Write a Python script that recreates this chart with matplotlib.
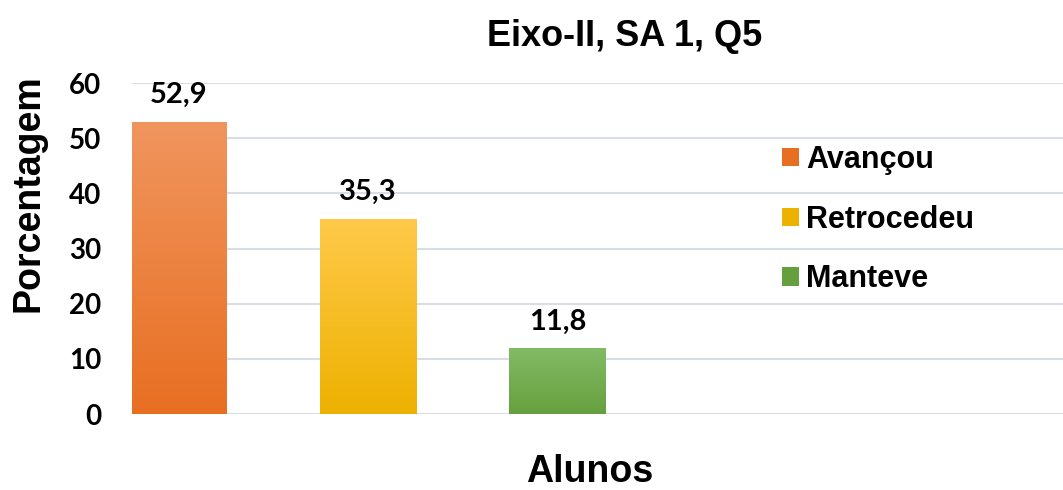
import matplotlib
matplotlib.use("Agg")
import matplotlib.pyplot as plt
import numpy as np
from matplotlib.patches import Patch

categories = ["Avançou", "Retrocedeu", "Manteve"]
values = [52.9, 35.3, 11.8]
labels = ["52,9", "35,3", "11,8"]
yticks = [0, 10, 20, 30, 40, 50, 60]

# gradient colours (top, bottom) per bar
grad = [("#F0955E", "#E86F22"), ("#FFC94A", "#EDB100"), ("#82BB65", "#66A03E")]

fig = plt.figure(figsize=(10.63, 4.9), dpi=100)
ax = fig.add_axes([0.1242, 0.155, 0.8758, 0.6755])

x = np.arange(len(values))
width = 0.507
bars = ax.bar(x, values, width=width, color="none", zorder=3)
for b, (top, bot) in zip(bars, grad):
    x0, w, h = b.get_x(), b.get_width(), b.get_height()
    c1 = np.array(matplotlib.colors.to_rgb(top))
    c2 = np.array(matplotlib.colors.to_rgb(bot))
    t = np.linspace(0, 1, 100)[:, None]
    img = (c1 * (1 - t) + c2 * t)[:, None, :]
    ax.imshow(img, extent=(x0, x0 + w, 0, h), aspect="auto", zorder=3,
              interpolation="bilinear")

for xi, v, lab in zip(x, values, labels):
    ax.text(xi, v + 2.6, lab, ha="center", va="bottom", fontsize=21,
            fontweight="bold", family="Lato")

ax.set_xlim(-0.245, 4.667)
ax.set_ylim(0, 60)
ax.set_yticks(yticks)
ax.set_yticklabels([str(t) for t in yticks], fontsize=20, fontweight="bold",
                   family="Lato")
ax.set_xticks([])
ax.tick_params(axis="y", length=0, pad=22)
ax.grid(axis="y", color="#D9DEE6", linewidth=1.5, zorder=0)
for s in ax.spines.values():
    s.set_visible(False)

fig.text(0.027, 0.606, "Porcentagem", rotation=90, ha="center", va="center",
         fontsize=27, fontweight="bold", family="Liberation Sans")
fig.text(0.555, 0.037, "Alunos", ha="center", va="center",
         fontsize=27, fontweight="bold", family="Liberation Sans")
fig.text(0.588, 0.925, "Eixo-II, SA 1, Q5", ha="center", va="center",
         fontsize=26, fontweight="bold", family="Liberation Sans")

handles = [Patch(facecolor=bot, edgecolor="none") for _, bot in grad]
ax.legend(handles, categories, loc="upper left", bbox_to_anchor=(0.685, 0.85),
          frameon=False, prop={"family": "Liberation Sans", "weight": "bold",
                               "size": 22},
          handlelength=0.55, handleheight=0.55, handletextpad=0.25,
          labelspacing=0.97, borderaxespad=0)

fig.savefig("out.png", dpi=100)
